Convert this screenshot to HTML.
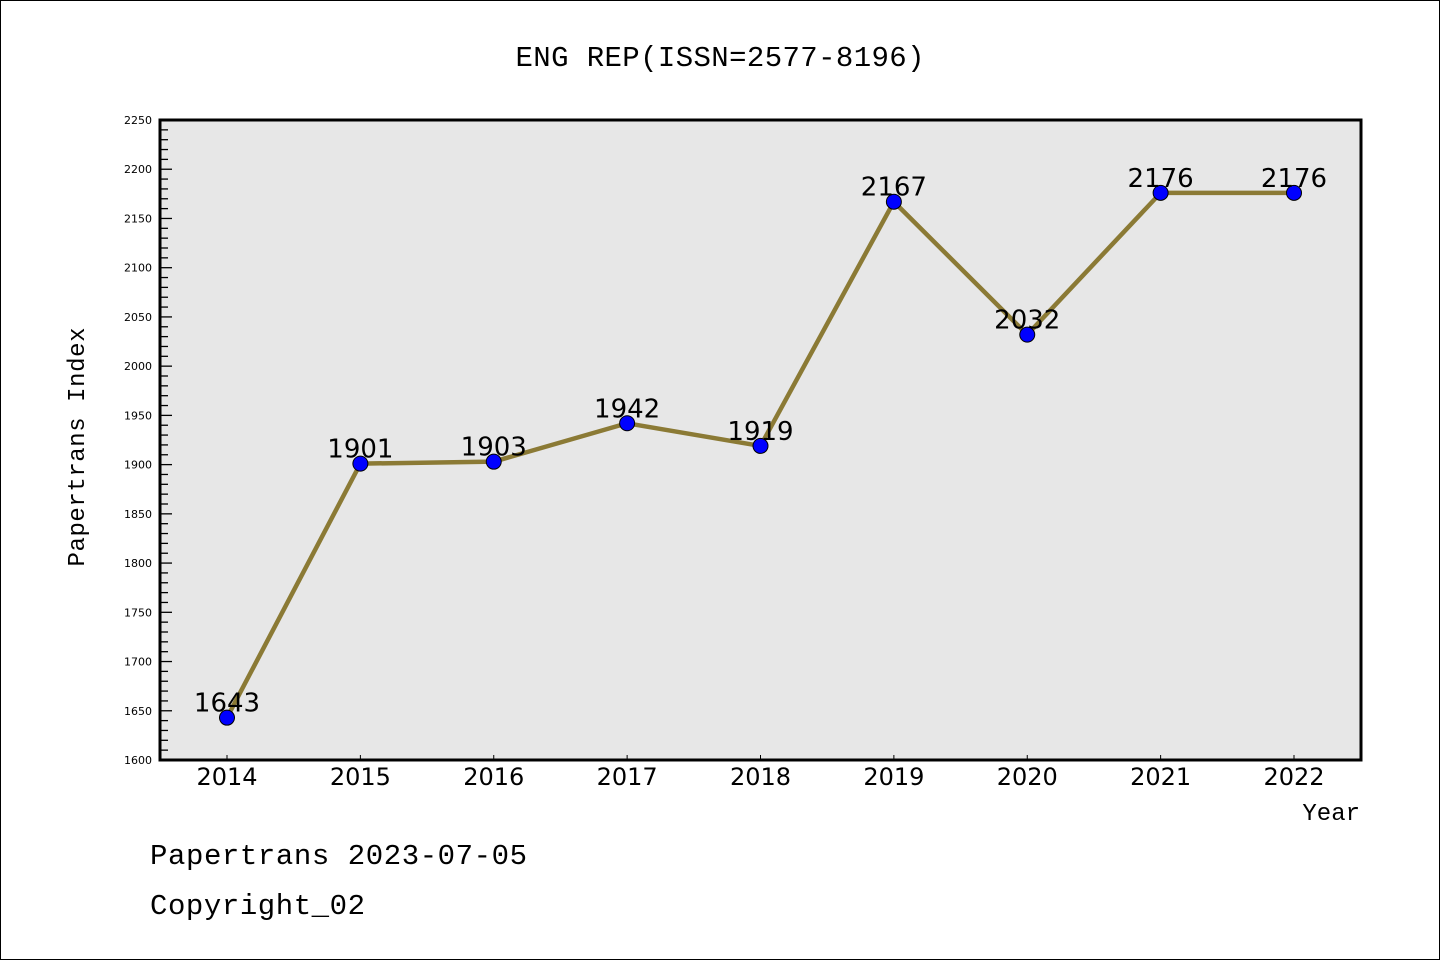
<!DOCTYPE html>
<html><head><meta charset="utf-8"><style>
html,body{margin:0;padding:0;background:#fff}
svg{display:block}
</style></head><body>
<svg id="chart" width="1440" height="960" viewBox="0 0 1440 960" xmlns="http://www.w3.org/2000/svg">
<rect x="0.5" y="0.5" width="1439" height="959" fill="#fff" stroke="#000" stroke-width="1"/>
<text x="720" y="66" text-anchor="middle" font-family="Liberation Mono, monospace" font-size="29" textLength="409">ENG REP(ISSN=2577-8196)</text>
<rect x="160" y="120" width="1201" height="640" fill="#e7e7e7"/>
<g id="yticks"></g>
<g id="xticks"></g>
<g id="series"></g>
<rect x="160" y="120" width="1201" height="640" fill="none" stroke="#000" stroke-width="3"/>
<text transform="translate(84,447) rotate(-90)" text-anchor="middle" font-family="Liberation Mono, monospace" font-size="24" textLength="239">Papertrans Index</text>
<text x="1360" y="820" text-anchor="end" font-family="Liberation Mono, monospace" font-size="24">Year</text>
<text x="150" y="864" font-family="Liberation Mono, monospace" font-size="29" textLength="377">Papertrans 2023-07-05</text>
<text x="150" y="914" font-family="Liberation Mono, monospace" font-size="29" textLength="215">Copyright_02</text>
</svg>
<script>
const years = [2014,2015,2016,2017,2018,2019,2020,2021,2022];
const values = [1643,1901,1903,1942,1919,2167,2032,2176,2176];
const yTickLabels = [1600,1650,1700,1750,1800,1850,1900,1950,2000,2050,2100,2150,2200,2250];
const yMin = 1600, yMax = 2250;
const NS = "http://www.w3.org/2000/svg";
const X0 = 227, X1 = 1294, PT = 120, PB = 760, PL = 160;
function xScale(i){ return X0 + (X1 - X0) * i / (years.length - 1); }
function yScale(v){ return PB - (v - yMin) / (yMax - yMin) * (PB - PT); }
function mk(tag, attrs, parent){ const e = document.createElementNS(NS, tag); for (const k in attrs) e.setAttribute(k, attrs[k]); parent.appendChild(e); return e; }
const yg = document.getElementById('yticks');
for (let v = yMin + 10; v < yMax; v += 10) {
  const major = (v % 50 === 0);
  const t = mk('line', {x1: PL, x2: PL + (major ? 12 : 8), y1: yScale(v), y2: yScale(v), stroke: '#000', 'stroke-width': 1.3}, yg);
  
  
}
yTickLabels.forEach(v => {
  const t = mk('text', {x: 152, y: yScale(v) + 4, 'text-anchor': 'end', 'font-family': 'DejaVu Sans, sans-serif', 'font-size': 11}, yg);
  t.textContent = v;
  
  
});
const xg = document.getElementById('xticks');
years.forEach((y, i) => {
  const t = mk('line', {x1: xScale(i), x2: xScale(i), y1: PB, y2: PB - 5, stroke: '#000', 'stroke-width': 1}, xg);
  
  
  const l = mk('text', {x: xScale(i), y: 785, 'text-anchor': 'middle', 'font-family': 'DejaVu Sans, sans-serif', 'font-size': 24}, xg);
  l.textContent = y;
  
  
});
const sg = document.getElementById('series');
const pts = values.map((v, i) => xScale(i) + ',' + yScale(v)).join(' ');
const line = mk('polyline', {points: pts, fill: 'none', stroke: '#8b7a35', 'stroke-width': 4.5, 'stroke-linejoin': 'round'}, sg);


values.forEach((v, i) => {
  const c = mk('circle', {cx: xScale(i), cy: yScale(v), r: 7.5, fill: '#0000ff', stroke: '#000', 'stroke-width': 1}, sg);
  
  
});
values.forEach((v, i) => {
  const t = mk('text', {x: xScale(i), y: yScale(v) - 6, 'text-anchor': 'middle', 'font-family': 'DejaVu Sans, sans-serif', 'font-size': 26}, sg);
  t.textContent = v;
  
  
});
</script>
</body></html>
